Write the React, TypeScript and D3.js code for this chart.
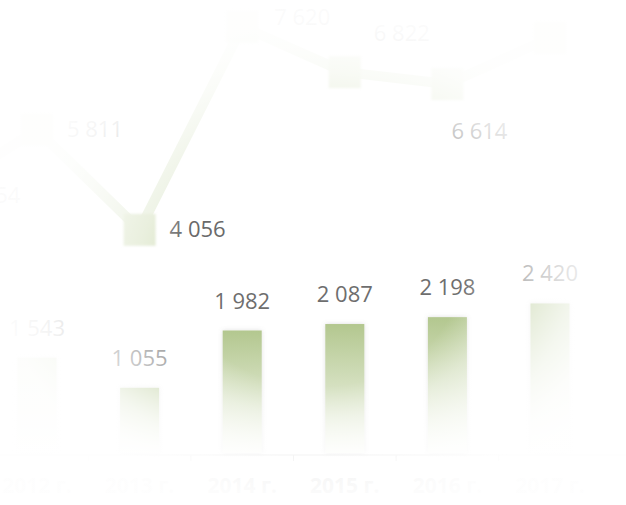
import React, { useEffect } from "react";
import * as d3 from "d3";

const categories = ["2011 г.", "2012 г.", "2013 г.", "2014 г.", "2015 г.", "2016 г.", "2017 г."];
const barValues: (number | null)[] = [null, 1543, 1055, 1982, 2087, 2198, 2420];
const lineValues = [4654, 5811, 4056, 7620, 6822, 6614, 7421];
const lineLabelPlacement = ["right", "right", "right", "upRight", "aboveRight", "belowRight", "none"];

const W = 626;
const H = 505;

const fmt = (v: number) => String(v).replace(/\B(?=(\d{3})+(?!\d))/g, "\u00a0");

export default function App() {
  useEffect(() => {
    document.body.style.margin = "0";
  }, []);

  const x = d3.scalePoint<string>().domain(categories).range([-65.6, 550]);
  const step = x.step();
  const yBar = d3.scaleLinear().domain([0, 2500]).range([453, 453 - 2500 * 0.0618]);
  const yLine = d3.scaleLinear().domain([0, 8000]).range([461, 461 - 8000 * 0.057]);
  const barW = 39;
  const axisY = 455;

  const linePath = d3
    .line<number>()
    .x((_, i) => x(categories[i]) as number)
    .y((d) => yLine(d))(lineValues);

  const font = "'Open Sans', 'Noto Sans', sans-serif";

  const labelPos = (i: number) => {
    const cx = x(categories[i]) as number;
    const cy = yLine(lineValues[i]);
    const p = lineLabelPlacement[i];
    if (p === "aboveRight") return { lx: cx + 29, ly: cy - 39 };
    if (p === "belowRight") return { lx: cx + 4, ly: cy + 47 };
    if (p === "upRight") return { lx: cx + 32, ly: cy - 10 };
    return { lx: cx + 30, ly: cy - 1 };
  };

  return (
    <svg width={W} height={H} style={{ display: "block" }}>
      <defs>
        <linearGradient id="barGrad" x1="0" y1="0" x2="0" y2="1">
          <stop offset="0" stopColor="#b3c78f" />
          <stop offset="0.5" stopColor="#d6e1c2" />
          <stop offset="1" stopColor="#fbfcf8" />
        </linearGradient>
        <filter id="barShadow" x="-30%" y="-10%" width="160%" height="120%">
          <feDropShadow dx="0" dy="0" stdDeviation="2" floodColor="#7a7a7a" floodOpacity="0.25" />
        </filter>
        <filter id="markGlow" x="-40%" y="-40%" width="180%" height="180%">
          <feGaussianBlur stdDeviation="1.2" />
        </filter>
        <radialGradient id="vignette" cx="0.51" cy="0.54" r="0.5" fx="0.51" fy="0.54">
          <stop offset="0" stopColor="#fff" stopOpacity="0" />
          <stop offset="0.45" stopColor="#fff" stopOpacity="0" />
          <stop offset="0.58" stopColor="#fff" stopOpacity="0.4" />
          <stop offset="0.7" stopColor="#fff" stopOpacity="0.65" />
          <stop offset="0.8" stopColor="#fff" stopOpacity="0.82" />
          <stop offset="0.9" stopColor="#fff" stopOpacity="0.93" />
          <stop offset="1" stopColor="#fff" stopOpacity="0.97" />
        </radialGradient>
      </defs>
      <rect x={0} y={0} width={W} height={H} fill="#ffffff" />

      {/* x axis */}
      <line x1={0} x2={W} y1={axisY} y2={axisY} stroke="#d9d9d9" strokeWidth={1} />
      {categories.slice(1).map((c, i) => {
        const tx = (x(c) as number) - step / 2;
        return <line key={"t" + i} x1={tx} x2={tx} y1={axisY} y2={axisY + 6} stroke="#d9d9d9" />;
      })}
      {categories.map((c) => (
        <text
          key={"xl" + c}
          x={x(c) as number}
          y={493}
          textAnchor="middle"
          fontFamily={font}
          fontSize={21}
          fontWeight={700}
          fill="#cfcfcf"
        >
          {c}
        </text>
      ))}

      {/* bars */}
      {barValues.map((v, i) =>
        v == null ? null : (
          <g key={"b" + i}>
            <rect
              x={(x(categories[i]) as number) - barW / 2}
              y={yBar(v)}
              width={barW}
              height={yBar(0) - yBar(v)}
              fill="url(#barGrad)"
              filter="url(#barShadow)"
            />
            <text
              x={x(categories[i]) as number}
              y={yBar(v) - 22}
              textAnchor="middle"
              fontFamily={font}
              fontSize={22}
              fill="#6e6e6e"
            >
              {fmt(v)}
            </text>
          </g>
        )
      )}

      {/* line */}
      <path d={linePath || ""} fill="none" stroke="#dbe5c9" strokeWidth={10} strokeLinejoin="round" opacity={0.75} />
      {lineValues.map((v, i) => {
        const cx = x(categories[i]) as number;
        const cy = yLine(v);
        return (
          <rect
            key={"m" + i}
            x={cx - 16}
            y={cy - 16}
            width={32}
            height={32}
            fill="#dbe5c8"
            filter="url(#markGlow)"
          />
        );
      })}
      {lineValues.map((v, i) => {
        if (lineLabelPlacement[i] === "none") return null;
        const { lx, ly } = labelPos(i);
        return (
          <text
            key={"ll" + i}
            x={lx}
            y={ly + 8}
            fontFamily={font}
            fontSize={22}
            fill="#6a6a6a"
          >
            {fmt(v)}
          </text>
        );
      })}

      {/* white vignette overlay */}
      <rect x={0} y={0} width={W} height={H} fill="url(#vignette)" />
    </svg>
  );
}
